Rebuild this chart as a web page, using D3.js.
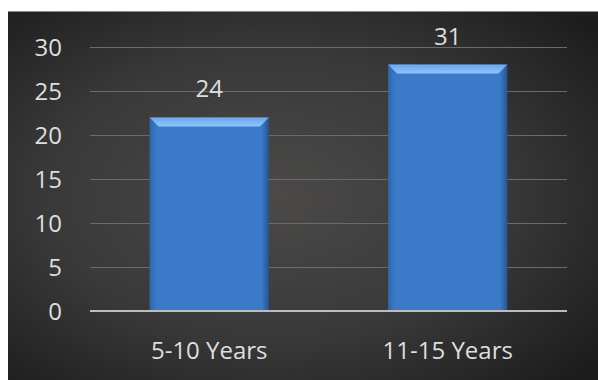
<!DOCTYPE html>
<html>
<head>
<meta charset="utf-8">
<title>Years chart</title>
<script src="https://cdn.jsdelivr.net/npm/d3@7"></script>
<style>
  body { margin: 0; background: #fff; }
  text { font-family: "Open Sans", sans-serif; fill: #dedede; }
</style>
</head>
<body>
<script>
// data
var categories = ["5-10 Years", "11-15 Years"];
var barValues = [22, 28];        // heights as drawn
var barLabels = ["24", "31"];    // labels as printed
var yTicks = [0, 5, 10, 15, 20, 25, 30];

var W = 598, H = 380;
var plotL = 90, plotR = 567, plotT = 47, plotB = 311;

var svg = d3.select("body").append("svg")
    .attr("width", W).attr("height", H);

var defs = svg.append("defs");

// dark background, lighter in the middle
var bg = defs.append("radialGradient").attr("id", "bg")
    .attr("cx", "45%").attr("cy", "50%").attr("r", "70%");
bg.append("stop").attr("offset", "0%").attr("stop-color", "#4b4a49");
bg.append("stop").attr("offset", "55%").attr("stop-color", "#3a3939");
bg.append("stop").attr("offset", "100%").attr("stop-color", "#1d1d1d");

var barGrad = defs.append("linearGradient").attr("id", "barG")
    .attr("x1", "0").attr("x2", "1").attr("y1", "0").attr("y2", "0");
barGrad.append("stop").attr("offset", "0%").attr("stop-color", "#2f66ad");
barGrad.append("stop").attr("offset", "6%").attr("stop-color", "#3b7ac9");
barGrad.append("stop").attr("offset", "94%").attr("stop-color", "#3b7ac9");
barGrad.append("stop").attr("offset", "100%").attr("stop-color", "#24548f");

var bevel = defs.append("linearGradient").attr("id", "bevG")
    .attr("x1", "0").attr("x2", "0").attr("y1", "0").attr("y2", "1");
bevel.append("stop").attr("offset", "0%").attr("stop-color", "#68a8ef");
bevel.append("stop").attr("offset", "100%").attr("stop-color", "#8fc5fa");

svg.append("rect").attr("x", 8).attr("y", 11)
    .attr("width", W - 8).attr("height", H - 11)
    .attr("fill", "url(#bg)");
svg.append("line").attr("x1", 8).attr("x2", W).attr("y1", 11.5).attr("y2", 11.5)
    .attr("stroke", "#8a8a8a").attr("stroke-width", 1);

var x = d3.scaleBand().domain(categories).range([plotL, plotR])
    .paddingInner(0.5).paddingOuter(0.25);
var y = d3.scaleLinear().domain([0, 30]).range([plotB, plotT]);

// gridlines
svg.append("g").selectAll("line").data(yTicks.filter(function(d) { return d > 0; }))
  .enter().append("line")
    .attr("x1", plotL).attr("x2", plotR)
    .attr("y1", function(d) { return y(d) + 0.5; })
    .attr("y2", function(d) { return y(d) + 0.5; })
    .attr("stroke", "#6b6b6b").attr("stroke-width", 1);

// y axis labels
svg.append("g").selectAll("text").data(yTicks).enter().append("text")
    .attr("x", 62).attr("y", function(d) { return y(d) + 8.5; })
    .attr("text-anchor", "end")
    .style("font-size", "24px")
    .text(function(d) { return d; });

// bars
var bars = svg.append("g").selectAll("g").data(categories).enter().append("g");
bars.append("rect")
    .attr("x", function(d) { return x(d); })
    .attr("y", function(d, i) { return y(barValues[i]); })
    .attr("width", x.bandwidth())
    .attr("height", function(d, i) { return y(0) - y(barValues[i]); })
    .attr("fill", "url(#barG)");
// top bevel
var bv = 9;
bars.append("path")
    .attr("d", function(d, i) {
      var x0 = x(d), x1 = x(d) + x.bandwidth(), t = y(barValues[i]);
      return "M" + x0 + "," + t + "L" + x1 + "," + t +
             "L" + (x1 - bv) + "," + (t + bv) + "L" + (x0 + bv) + "," + (t + bv) + "Z";
    })
    .attr("fill", "url(#bevG)");

// axis line
svg.append("line").attr("x1", plotL).attr("x2", plotR)
    .attr("y1", y(0)).attr("y2", y(0))
    .attr("stroke", "#bdbdbd").attr("stroke-width", 2);

// value labels
svg.append("g").selectAll("text").data(categories).enter().append("text")
    .attr("x", function(d) { return x(d) + x.bandwidth() / 2; })
    .attr("y", function(d, i) { return y(barValues[i]) - 20; })
    .attr("text-anchor", "middle")
    .style("font-size", "24px")
    .text(function(d, i) { return barLabels[i]; });

// category labels
svg.append("g").selectAll("text").data(categories).enter().append("text")
    .attr("x", function(d) { return x(d) + x.bandwidth() / 2; })
    .attr("y", 359)
    .attr("text-anchor", "middle")
    .style("font-size", "24px")
    .text(function(d) { return d; });
</script>
</body>
</html>
